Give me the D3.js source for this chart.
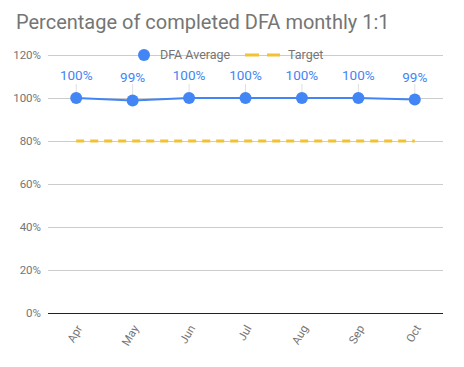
<!DOCTYPE html>
<html><head><meta charset="utf-8">
<script src="https://cdn.jsdelivr.net/npm/d3@7"></script>
<style>body{margin:0;background:#fff}svg{display:block;font-family:Roboto,sans-serif}</style>
</head><body><svg id="c" width="464" height="367"></svg>
<script>
const months = ["Apr","May","Jun","Jul","Aug","Sep","Oct"];
const dfaAverage = [100, 98.8, 100, 100, 100, 100, 99.3];
const dfaLabels = ["100%","99%","100%","100%","100%","100%","99%"];
const target = [80, 80, 80, 80, 80, 80, 80];
const yTicks = [0, 20, 40, 60, 80, 100, 120];

const svg = d3.select("#c");
const L = 48, R = 443, T = 55, B = 313;
const x = d3.scaleBand().domain(months).range([L, R]);
const y = d3.scaleLinear().domain([0, 120]).range([B, T]);
const cx = m => x(m) + x.bandwidth() / 2;

svg.append("text").attr("x", 16).attr("y", 29).attr("font-size", 20).attr("fill", "#757575").text("Percentage of completed DFA monthly 1:1");

const yAxis = svg.append("g").attr("transform", `translate(${L},0)`)
  .call(d3.axisLeft(y).tickValues(yTicks).tickFormat(d => d + "%").tickSize(-(R - L)).tickPadding(7));
yAxis.select(".domain").remove();
yAxis.selectAll(".tick line").attr("stroke", d => d === 0 ? "#222" : "#ccc").attr("stroke-width", 1);
yAxis.selectAll(".tick text").attr("fill", "#757575").attr("font-size", 11.5).attr("font-family", "Roboto");

const xAxis = svg.append("g").attr("transform", `translate(0,${B})`).call(d3.axisBottom(x).tickSize(0));
xAxis.select(".domain").remove();
xAxis.selectAll(".tick text").attr("fill", "#757575").attr("font-size", 11.5).attr("font-family", "Roboto")
  .attr("text-anchor", "end").attr("x", 0).attr("y", 0).attr("dy", "0.35em").attr("transform", "translate(3,13) rotate(-60)");

// legend (drawn over gridline)
const lg = svg.append("g");
lg.append("circle").attr("cx", 144).attr("cy", 55).attr("r", 6).attr("fill", "#4285f4");
lg.append("text").attr("x", 160).attr("y", 59).attr("font-size", 12.5).attr("fill", "#757575").text("DFA Average");
lg.append("line").attr("x1", 245).attr("x2", 280).attr("y1", 55).attr("y2", 55).attr("stroke", "#f1c232").attr("stroke-width", 3).attr("stroke-dasharray", "14,8");
lg.append("text").attr("x", 288).attr("y", 59).attr("font-size", 12.5).attr("fill", "#757575").text("Target");

// target
svg.append("path").datum(target).attr("fill", "none").attr("stroke", "#f1c232").attr("stroke-width", 3).attr("stroke-dasharray", "8,6")
  .attr("d", d3.line().x((d, i) => cx(months[i])).y(d => y(d)));

// leaders
svg.selectAll(".ld").data(dfaAverage).join("line").attr("stroke", "#e0e0e0").attr("stroke-width", 1)
  .attr("x1", (d, i) => cx(months[i])).attr("x2", (d, i) => cx(months[i]))
  .attr("y1", d => y(d) - 6).attr("y2", 84);

svg.append("path").datum(dfaAverage).attr("fill", "none").attr("stroke", "#4285f4").attr("stroke-width", 2)
  .attr("d", d3.line().x((d, i) => cx(months[i])).y(d => y(d)));
svg.selectAll(".pt").data(dfaAverage).join("circle").attr("r", 6).attr("fill", "#4285f4")
  .attr("cx", (d, i) => cx(months[i])).attr("cy", d => y(d));
svg.selectAll(".lb").data(dfaLabels).join("text").attr("text-anchor", "middle").attr("font-size", 13.5).attr("fill", "#4285f4")
  .attr("x", (d, i) => cx(months[i])).attr("y", (d, i) => i === 1 || i === 6 ? 82 : 80).text(d => d);
</script></body></html>
